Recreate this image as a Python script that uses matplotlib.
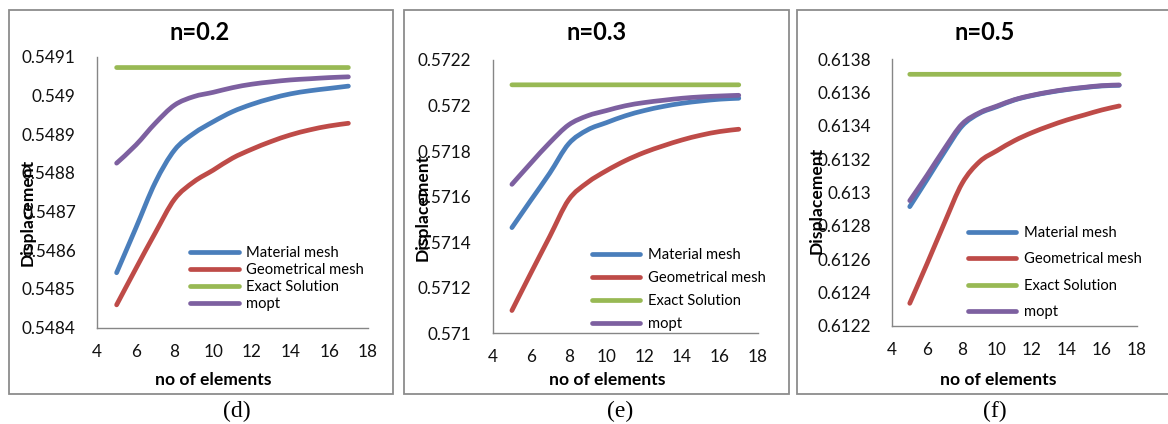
"""
Convergence of the tip displacement with mesh refinement for three
values of n: material mesh, geometrical mesh, mopt and the exact solution.
"""

import matplotlib

matplotlib.use("Agg")

import matplotlib.pyplot as plt
from matplotlib.lines import Line2D
from matplotlib.patches import PathPatch, Rectangle
from matplotlib.path import Path
from matplotlib.ticker import FixedLocator

# ---------------------------------------------------------------- data
elements = [5, 6, 7, 8, 9, 10, 11, 12, 13, 14, 15, 16, 17]

# n = 0.2
material_02 = [0.548542, 0.548658, 0.548775, 0.548859, 0.548902, 0.548932, 0.548958,
               0.548977, 0.548992, 0.549004, 0.549012, 0.549018, 0.549024]
geometric_02 = [0.548459, 0.548553, 0.548645, 0.548732, 0.548777, 0.548807, 0.548838,
                0.548861, 0.548881, 0.548898, 0.548911, 0.548921, 0.548928]
mopt_02 = [0.548825, 0.548872, 0.548928, 0.548975, 0.548997, 0.549008, 0.549020,
           0.549029, 0.549035, 0.549040, 0.549043, 0.549046, 0.549048]
exact_02 = 0.549072

# n = 0.3
material_03 = [0.571464, 0.571584, 0.571703, 0.571832, 0.571893, 0.571925, 0.571955,
               0.571978, 0.571996, 0.572010, 0.572020, 0.572028, 0.572032]
geometric_03 = [0.571100, 0.571264, 0.571425, 0.571586, 0.571662, 0.571714, 0.571758,
                0.571794, 0.571823, 0.571849, 0.571870, 0.571886, 0.571896]
mopt_03 = [0.571654, 0.571747, 0.571837, 0.571915, 0.571955, 0.571978, 0.571999,
           0.572013, 0.572023, 0.572032, 0.572038, 0.572042, 0.572045]
exact_03 = 0.572091

# n = 0.5
material_05 = [0.612916, 0.613080, 0.613246, 0.613400, 0.613476, 0.613516, 0.613556,
               0.613582, 0.613602, 0.613618, 0.613630, 0.613640, 0.613644]
geometric_05 = [0.612336, 0.612576, 0.612822, 0.613056, 0.613186, 0.613252, 0.613312,
                0.613360, 0.613400, 0.613436, 0.613466, 0.613496, 0.613520]
mopt_05 = [0.612952, 0.613106, 0.613266, 0.613412, 0.613480, 0.613520, 0.613558,
           0.613584, 0.613604, 0.613620, 0.613632, 0.613642, 0.613646]
exact_05 = 0.61371

titles = ["n=0.2", "n=0.3", "n=0.5"]
captions = ["(d)", "(e)", "(f)"]
series_labels = ["Material mesh", "Geometrical mesh", "Exact Solution", "mopt"]

x_ticks = [4, 6, 8, 10, 12, 14, 16, 18]
y_ticks_02 = [0.5484, 0.5485, 0.5486, 0.5487, 0.5488, 0.5489, 0.549, 0.5491]
y_ticks_03 = [0.571, 0.5712, 0.5714, 0.5716, 0.5718, 0.572, 0.5722]
y_ticks_05 = [0.6122, 0.6124, 0.6126, 0.6128, 0.613, 0.6132, 0.6134, 0.6136, 0.6138]

# ---------------------------------------------------------------- style
COLORS = ["#4A7EBB", "#BE4B48", "#98B954", "#7D60A0"]
LW = 3.4
W, H = 1168, 424

plt.rcParams["font.family"] = ["Lato", "DejaVu Sans"]

panels = [
    dict(material=material_02, geometric=geometric_02, mopt=mopt_02, exact=exact_02,
         yticks=y_ticks_02, rect=(97.3, 327.7, 270.4, 271.0), box=(9, 10, 384, 384),
         title_xy=(0.38, 1.091), ylab_xy=(-0.256, 0.427), xlab_xy=(0.428, -0.193),
         leg_xy=(0.343, 0.300), leg_spacing=0.2, caption_x=237),
    dict(material=material_03, geometric=geometric_03, mopt=mopt_03, exact=exact_03,
         yticks=y_ticks_03, rect=(493.0, 333.3, 264.7, 273.3), box=(404, 10, 385, 384),
         title_xy=(0.393, 1.102), ylab_xy=(-0.264, 0.462), xlab_xy=(0.43, -0.171),
         leg_xy=(0.373, 0.311), leg_spacing=0.6, caption_x=620),
    dict(material=material_05, geometric=geometric_05, mopt=mopt_05, exact=exact_05,
         yticks=y_ticks_05, rect=(892.3, 326.0, 244.4, 266.7), box=(797, 10, 372, 384),
         title_xy=(0.379, 1.102), ylab_xy=(-0.308, 0.472), xlab_xy=(0.434, -0.2025),
         leg_xy=(0.3085, 0.375), leg_spacing=0.84, caption_x=995),
]


def fmt_tick(v):
    return f"{v:.4f}".rstrip("0")


def smooth_path(xs, ys):
    """Excel-style smoothed line: cubic Bezier through every data point."""
    pts = list(zip(xs, ys))
    n = len(pts)
    verts = [pts[0]]
    codes = [Path.MOVETO]
    for i in range(n - 1):
        p0 = pts[max(i - 1, 0)]
        p1 = pts[i]
        p2 = pts[i + 1]
        p3 = pts[min(i + 2, n - 1)]
        c1 = (p1[0] + (p2[0] - p0[0]) / 6, p1[1] + (p2[1] - p0[1]) / 6)
        c2 = (p2[0] - (p3[0] - p1[0]) / 6, p2[1] - (p3[1] - p1[1]) / 6)
        verts += [c1, c2, p2]
        codes += [Path.CURVE4] * 3
    return Path(verts, codes)


fig = plt.figure(figsize=(W / 100, H / 100), dpi=100)
fig.patch.set_facecolor("white")

for p, title, caption in zip(panels, titles, captions):
    bx, by, bw, bh = p["box"]
    fig.add_artist(Rectangle((bx / W, 1 - (by + bh) / H), bw / W, bh / H,
                             transform=fig.transFigure, fill=False,
                             edgecolor="#8C8C8C", linewidth=1.3))

    left, bottom, width, height = p["rect"]
    ax = fig.add_axes([left / W, 1 - bottom / H, width / W, height / H])

    exact_line = [p["exact"]] * len(elements)
    series = [p["material"], p["geometric"], exact_line, p["mopt"]]
    handles = []
    for values, color, label in zip(series, COLORS, series_labels):
        ax.add_patch(PathPatch(smooth_path(elements, values), fill=False,
                               edgecolor=color, lw=LW, capstyle="round",
                               joinstyle="round"))
        handles.append(Line2D([], [], color=color, lw=LW, label=label,
                              solid_capstyle="round"))

    ax.set_xlim(x_ticks[0], x_ticks[-1])
    ax.set_ylim(p["yticks"][0], p["yticks"][-1])
    ax.xaxis.set_major_locator(FixedLocator(x_ticks))
    ax.yaxis.set_major_locator(FixedLocator(p["yticks"]))
    ax.set_xticklabels([str(t) for t in x_ticks])
    ax.set_yticklabels([fmt_tick(t) for t in p["yticks"]])
    ax.tick_params(axis="both", length=0, labelsize=12.3, colors="#111111")
    ax.tick_params(axis="x", pad=11.5)
    ax.tick_params(axis="y", pad=15.5)

    for side in ("top", "right"):
        ax.spines[side].set_visible(False)
    for side in ("left", "bottom"):
        ax.spines[side].set_color("#868686")
        ax.spines[side].set_linewidth(1.0)

    ax.text(*p["title_xy"], title, transform=ax.transAxes, ha="center",
            va="center", fontsize=17, fontweight="bold")
    ax.set_xlabel("no of elements", fontsize=12.6, fontweight="bold", va="center")
    ax.xaxis.set_label_coords(*p["xlab_xy"])
    ax.set_ylabel("Displacement", fontsize=12.6, fontweight="bold", va="center")
    ax.yaxis.set_label_coords(*p["ylab_xy"])

    ax.legend(handles=handles, loc="upper left", bbox_to_anchor=p["leg_xy"],
              frameon=False, fontsize=10.6, borderpad=0, borderaxespad=0,
              handlelength=3.3, handletextpad=0.5, labelspacing=p["leg_spacing"])

    fig.text(p["caption_x"] / W, 1 - 411 / H, caption, ha="center", va="center",
             fontsize=17, family="Liberation Serif")

fig.savefig("out.png", dpi=100)
